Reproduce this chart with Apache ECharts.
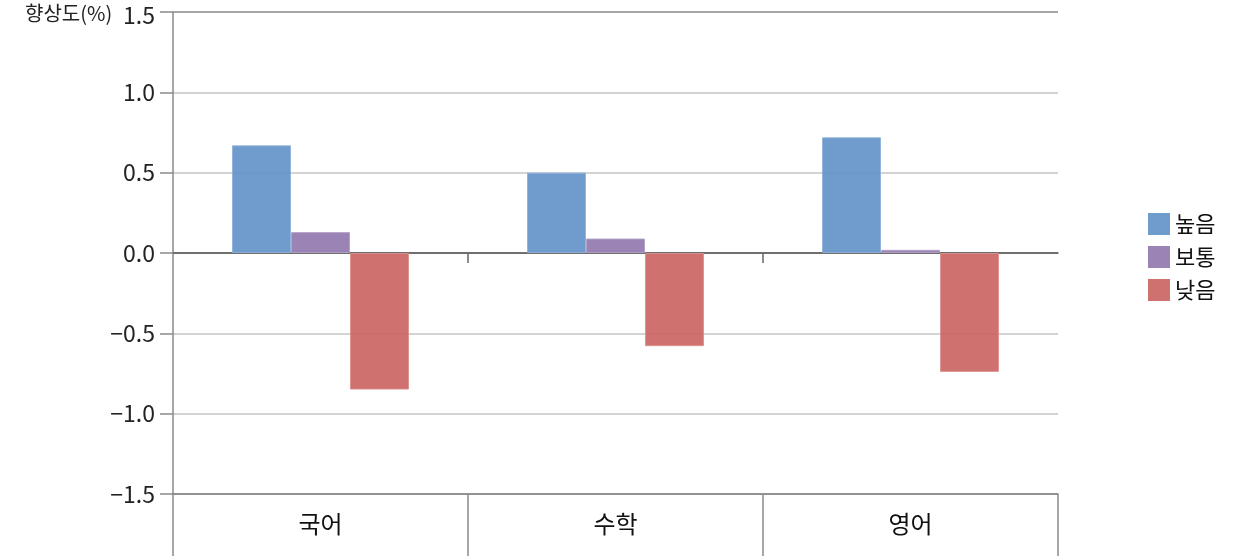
<!DOCTYPE html>
<html><head><meta charset="utf-8">
<script src="https://cdn.jsdelivr.net/npm/echarts@6/dist/echarts.min.js"></script>
<style>html,body{margin:0;padding:0;background:#fff}#c{width:1240px;height:556px}</style>
</head><body><div id="c"></div>
<script>
const categories = ['국어', '수학', '영어'];
const seriesNames = ['높음', '보통', '낮음'];
const high = [0.67, 0.50, 0.72];
const mid = [0.13, 0.09, 0.02];
const low = [-0.85, -0.58, -0.74];
const yTicks = [-1.5, -1.0, -0.5, 0.0, 0.5, 1.0, 1.5];
const yTitle = '향상도(%)';

const FONT = '"Noto Sans CJK KR", sans-serif';
const colors = ['#6091c8', '#9076ae', '#ca635f'];
const borders = ['#8fb2db', '#b3a1c8', '#dc918e'];
const chart = echarts.init(document.getElementById('c'), null, {renderer: 'canvas'});
const mk = (name, data, i) => ({
  name, type: 'bar', data, barWidth: 59, barGap: '0%', xAxisIndex: 0,
  itemStyle: {color: colors[i], opacity: 0.9, borderColor: borders[i], borderWidth: 1}
});
const yMax = yTicks[yTicks.length - 1];
chart.setOption({
  animation: false,
  backgroundColor: '#fff',
  grid: {left: 173, right: 182, top: 12, bottom: 62},
  legend: {
    orient: 'vertical', left: 1143, top: 208, itemWidth: 22, itemHeight: 22, itemGap: 11,
    icon: 'rect', data: seriesNames, itemStyle: {borderWidth: 0},
    textStyle: {fontSize: 22, color: '#111', fontFamily: FONT}
  },
  graphic: [{type: 'text', left: 25, top: 3, style: {text: yTitle, fontSize: 20, fill: '#222', fontFamily: FONT}}],
  xAxis: [{
    type: 'category', data: categories, position: 'bottom',
    axisLine: {onZero: false, lineStyle: {color: '#8a8a8a', width: 1.5}},
    axisTick: {show: true, length: 62, interval: 0, lineStyle: {color: '#8a8a8a', width: 1.5}},
    axisLabel: {margin: 18, fontSize: 24, color: '#111', fontFamily: FONT},
    splitLine: {show: false}
  }, {
    type: 'value', min: 0, max: categories.length, position: 'top',
    axisLine: {show: true, onZero: true, lineStyle: {color: '#666', width: 1.5}},
    axisTick: {show: true, inside: true, length: 10, customValues: [1, 2], lineStyle: {color: '#666', width: 1.5}},
    axisLabel: {show: false},
    splitLine: {show: false}
  }],
  yAxis: {
    type: 'value', min: yTicks[0], max: yMax, interval: 0.5,
    axisLine: {show: true, lineStyle: {color: '#8a8a8a', width: 1.5}},
    axisTick: {show: true, length: 13, lineStyle: {color: '#8a8a8a', width: 1.5}},
    axisLabel: {margin: 18, fontSize: 23, color: '#222', fontFamily: FONT,
      formatter: v => {
        const s = v.toFixed(1).replace('-', '\u2212');
        return v === yMax ? '{t|' + s + '}' : s;
      },
      rich: {t: {fontSize: 23, fontFamily: FONT, color: '#222', padding: [6, 0, 0, 0]}}},
    splitLine: {show: true, lineStyle: {color: ['#8a8a8a', '#c4c4c4', '#c4c4c4', '#666', '#c4c4c4', '#c4c4c4', '#8a8a8a'], width: 1.5}}
  },
  series: [mk(seriesNames[0], high, 0), mk(seriesNames[1], mid, 1), mk(seriesNames[2], low, 2)]
});
</script></body></html>
